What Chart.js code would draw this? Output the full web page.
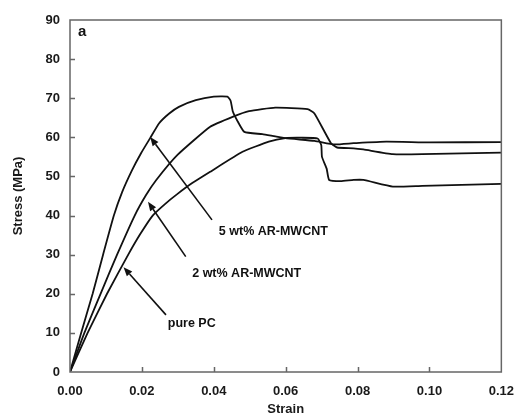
<!DOCTYPE html>
<html>
<head>
<meta charset="utf-8">
<script src="https://cdn.jsdelivr.net/npm/chart.js@4/dist/chart.umd.min.js"></script>
<style>
html,body{margin:0;padding:0;background:#fff;}
#wrap{position:relative;width:526px;height:417px;}
</style>
</head>
<body>
<div id="wrap"><canvas id="c" width="526" height="417"></canvas></div>
<script>
// ---- data (strain, stress in MPa) ----
const pureStrain = [0, 0.0049, 0.0103, 0.0162, 0.0195, 0.023, 0.0265, 0.030, 0.034, 0.039, 0.048, 0.0553, 0.0599, 0.0644, 0.0689, 0.0699, 0.0701, 0.0714, 0.0721, 0.0753, 0.0789, 0.0816, 0.0898, 0.098, 0.12];
const pureStress = [0, 10, 20, 30, 35.2, 40, 43, 45.6, 48.3, 51.2, 56.3, 58.9, 59.8, 59.9, 59.7, 58, 55, 52, 49.1, 48.8, 49.1, 49.1, 47.4, 47.6, 48.1];

const cnt2Strain = [0, 0.004, 0.0085, 0.0131, 0.018, 0.0212, 0.024, 0.0299, 0.039, 0.0454, 0.0498, 0.0571, 0.0661, 0.068, 0.0726, 0.0743, 0.0789, 0.0816, 0.0898, 0.098, 0.12];
const cnt2Stress = [0, 10, 20, 30, 40, 45.3, 49.1, 55.5, 62.7, 65.3, 66.7, 67.6, 67.2, 66.1, 58.5, 57.4, 57.2, 56.9, 55.7, 55.7, 56.1];

const cnt5Strain = [0, 0.0031, 0.0063, 0.0092, 0.0122, 0.0145, 0.0172, 0.0198, 0.0223, 0.0248, 0.0276, 0.0303, 0.035, 0.040, 0.0438, 0.0447, 0.0453, 0.0467, 0.0485, 0.0535, 0.0599, 0.068, 0.0735, 0.0789, 0.088, 0.10, 0.12];
const cnt5Stress = [0, 10, 20, 30, 40, 46, 51.5, 56, 59.8, 63.6, 66.1, 67.8, 69.5, 70.4, 70.4, 69.3, 66.6, 64, 61.4, 60.8, 59.8, 59.1, 58.2, 58.5, 58.9, 58.7, 58.8];

const xTicks = [0, 0.02, 0.04, 0.06, 0.08, 0.10, 0.12];
const yTicks = [0, 10, 20, 30, 40, 50, 60, 70, 80, 90];

// annotations: label text, arrow tip (strain, stress), arrow tail, label anchor (left, middle)
const annLabels = ["5 wt% AR-MWCNT", "2 wt% AR-MWCNT", "pure PC"];
const annTip = [[0.0223, 60.1], [0.0217, 43.5], [0.0149, 26.8]];
const annTail = [[0.0395, 38.9], [0.0322, 29.5], [0.0267, 14.6]];
const annText = [[0.0414, 35.9], [0.0340, 25.3], [0.0272, 12.3]];
const panelLabel = "a";
const panelPos = [0.0022, 86.9];

function pts(xs, ys){ return xs.map((x,i)=>({x:x, y:ys[i]})); }

const lineStyle = {showLine:true, borderColor:'#111', borderWidth:1.8, pointRadius:0, tension:0.15, fill:false};

const decor = {
  id:'decor',
  afterDatasetsDraw(chart){
    const ctx = chart.ctx, a = chart.chartArea;
    const xs = chart.scales.x, ys = chart.scales.y;
    ctx.save();
    // frame
    ctx.strokeStyle = '#666';
    ctx.lineWidth = 1.5;
    ctx.strokeRect(a.left, a.top, a.right - a.left, a.bottom - a.top);
    // inward ticks
    ctx.beginPath();
    xTicks.forEach(v=>{ const px = Math.round(xs.getPixelForValue(v)) + 0.5; if (v>0 && v<0.12){ ctx.moveTo(px, a.bottom); ctx.lineTo(px, a.bottom - 5);} });
    yTicks.forEach(v=>{ const py = Math.round(ys.getPixelForValue(v)) + 0.5; if (v>0 && v<90){ ctx.moveTo(a.left, py); ctx.lineTo(a.left + 5, py);} });
    ctx.stroke();
    // arrows
    ctx.strokeStyle = '#111';
    ctx.fillStyle = '#111';
    ctx.lineWidth = 1.6;
    for (let i=0;i<annLabels.length;i++){
      const tx = xs.getPixelForValue(annTip[i][0]), ty = ys.getPixelForValue(annTip[i][1]);
      const sx = xs.getPixelForValue(annTail[i][0]), sy = ys.getPixelForValue(annTail[i][1]);
      const ang = Math.atan2(ty - sy, tx - sx);
      const hl = 9, hw = 3.6;
      const bx = tx - hl*Math.cos(ang), by = ty - hl*Math.sin(ang);
      ctx.beginPath(); ctx.moveTo(sx, sy); ctx.lineTo(bx, by); ctx.stroke();
      ctx.beginPath();
      ctx.moveTo(tx, ty);
      ctx.lineTo(bx + hw*Math.sin(ang), by - hw*Math.cos(ang));
      ctx.lineTo(bx - hw*Math.sin(ang), by + hw*Math.cos(ang));
      ctx.closePath(); ctx.fill();
      ctx.font = 'bold 12.5px "Liberation Sans", Arial, sans-serif';
      ctx.textAlign = 'left'; ctx.textBaseline = 'middle';
      ctx.fillText(annLabels[i], xs.getPixelForValue(annText[i][0]), ys.getPixelForValue(annText[i][1]));
    }
    ctx.font = 'bold 15px "Liberation Sans", Arial, sans-serif';
    ctx.textAlign = 'left'; ctx.textBaseline = 'middle';
    ctx.fillText(panelLabel, xs.getPixelForValue(panelPos[0]), ys.getPixelForValue(panelPos[1]));
    ctx.restore();
  }
};

const tickFont = {family:'"Liberation Sans", Arial, sans-serif', size:13, weight:'bold'};

new Chart(document.getElementById('c'), {
  type:'scatter',
  data:{ datasets:[
    Object.assign({label:'5 wt% AR-MWCNT', data:pts(cnt5Strain, cnt5Stress)}, lineStyle),
    Object.assign({label:'2 wt% AR-MWCNT', data:pts(cnt2Strain, cnt2Stress)}, lineStyle),
    Object.assign({label:'pure PC', data:pts(pureStrain, pureStress)}, lineStyle)
  ]},
  options:{
    responsive:false, animation:false,
    layout:{padding:{left:0, right:15, top:20, bottom:0}},
    plugins:{legend:{display:false}, tooltip:{enabled:false}},
    scales:{
      x:{
        type:'linear', min:0, max:0.12,
        afterBuildTicks:(s)=>{ s.ticks = xTicks.map(v=>({value:v})); },
        afterFit:(s)=>{ s.height = 45; },
        grid:{display:false, drawTicks:false},
        border:{display:false},
        ticks:{padding:12, color:'#1a1a1a', font:tickFont, maxRotation:0, autoSkip:false, callback:(v)=>Number(v).toFixed(2)},
        title:{display:true, text:'Strain', color:'#1a1a1a', font:{family:tickFont.family, size:13, weight:'bold'}, padding:{top:0,bottom:0}}
      },
      y:{
        type:'linear', min:0, max:90,
        afterBuildTicks:(s)=>{ s.ticks = yTicks.map(v=>({value:v})); },
        afterFit:(s)=>{ s.width = 70; },
        grid:{display:false, drawTicks:false},
        border:{display:false},
        ticks:{padding:10, color:'#1a1a1a', font:tickFont, autoSkip:false, callback:(v)=>String(v)},
        title:{display:true, text:'Stress (MPa)', color:'#1a1a1a', font:{family:tickFont.family, size:13, weight:'bold'}, padding:{top:11,bottom:0}}
      }
    }
  },
  plugins:[decor]
});
</script>
</body>
</html>
